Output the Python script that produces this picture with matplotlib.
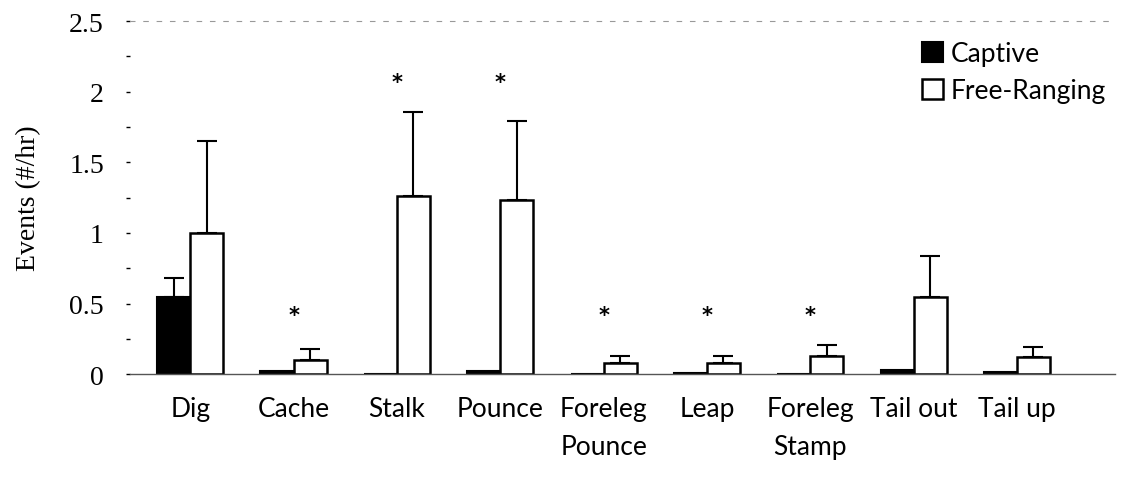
import numpy as np
import matplotlib.pyplot as plt

categories = ["Dig", "Cache", "Stalk", "Pounce", "Foreleg\nPounce", "Leap",
              "Foreleg\nStamp", "Tail out", "Tail up"]
captive = [0.55, 0.02, 0.004, 0.02, 0.004, 0.01, 0.004, 0.03, 0.015]
captive_err = [0.13, 0.0, 0.0, 0.0, 0.0, 0.0, 0.0, 0.0, 0.0]
free = [1.0, 0.1, 1.26, 1.23, 0.08, 0.08, 0.13, 0.55, 0.12]
free_err = [0.65, 0.08, 0.6, 0.56, 0.05, 0.05, 0.08, 0.29, 0.07]
star_y = [None, 0.42, 2.07, 2.07, 0.42, 0.42, 0.42, None, None]

plt.rcParams['font.family'] = ['Liberation Serif', 'DejaVu Serif']
label_font = ['Lato', 'DejaVu Sans']

fig = plt.figure(figsize=(11.23, 4.81), dpi=100)
ax = fig.add_axes([0.116, 0.22, 0.877, 0.734])

x = np.arange(len(categories))
w = 0.32
ax.bar(x - w / 2, captive, w, color='black', edgecolor='black', linewidth=1.5,
       label='Captive')
ax.bar(x + w / 2, free, w, color='white', edgecolor='black', linewidth=1.8,
       label='Free-Ranging')

cap_mask = np.array(captive_err) > 0
ax.errorbar((x - w / 2)[cap_mask], np.array(captive)[cap_mask],
            yerr=[np.zeros(cap_mask.sum()), np.array(captive_err)[cap_mask]],
            fmt='none', ecolor='black', elinewidth=1.5, capsize=7, capthick=1.5)
ax.errorbar(x + w / 2, free, yerr=[np.zeros(len(free)), free_err],
            fmt='none', ecolor='black', elinewidth=1.5, capsize=7, capthick=1.5)

for i, s in enumerate(star_y):
    if s is not None:
        ax.text(i, s, '*', ha='center', va='center', fontsize=15,
                fontweight='bold', family='DejaVu Sans')

ax.set_xlim(-0.58, 8.95)
ax.set_ylim(0, 2.5)
ax.set_yticks([0, 0.5, 1, 1.5, 2, 2.5])
ax.set_yticklabels(['0', '0.5', '1', '1.5', '2', '2.5'])
ax.set_yticks(np.arange(0.25, 2.5, 0.5), minor=True)
ax.tick_params(axis='y', which='both', length=3, width=1, direction='out',
               labelsize=20, pad=16)
ax.set_xticks(x)
ax.set_xticklabels(categories, fontsize=19, linespacing=1.65,
                   family=label_font)
ax.tick_params(axis='x', length=0, pad=16)

for s in ['left', 'right']:
    ax.spines[s].set_visible(False)
ax.spines['top'].set_linestyle((0, (4, 8)))
ax.spines['top'].set_color('#999999')
ax.spines['top'].set_linewidth(0.8)
ax.spines['bottom'].set_color('#555555')
ax.spines['bottom'].set_linewidth(1.0)

ax.set_ylabel('Events (#/hr)', fontsize=20, labelpad=20)

ax.legend(loc='upper right', bbox_to_anchor=(1.015, 1.01), frameon=False,
          prop={'family': label_font, 'size': 19}, handlelength=0.8,
          handleheight=0.8, handletextpad=0.3, labelspacing=0.45)

fig.savefig('out.png', dpi=100)
